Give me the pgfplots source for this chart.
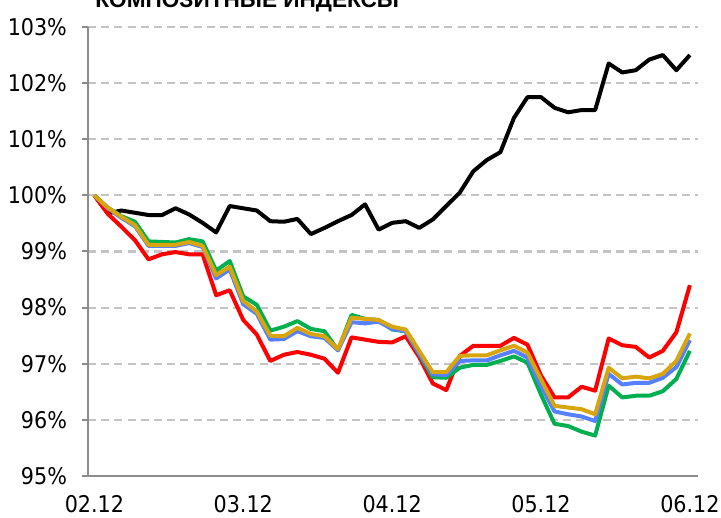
\documentclass[border=0pt]{standalone}
\usepackage{fontspec}
\setmainfont{DejaVu Sans Condensed}
\newfontfamily\titlefont{Liberation Sans}
\usepackage{pgfplots}
\usepackage{pgfplotstable}
\pgfplotsset{compat=1.18}
\definecolor{cred}{HTML}{FF0000}
\definecolor{cgreen}{HTML}{00B050}
\definecolor{cblue}{HTML}{5580FF}
\definecolor{cgold}{HTML}{D9A50C}
\definecolor{cgrid}{HTML}{C4C4C4}
\definecolor{caxis}{HTML}{8C8C8C}
\pgfplotstableread{
i black red green blue gold
0 100.00 100.00 100.00 100.00 100.00
1 99.68 99.67 99.78 99.77 99.78
2 99.73 99.44 99.63 99.60 99.62
3 99.69 99.20 99.53 99.45 99.47
4 99.65 98.86 99.18 99.10 99.12
5 99.65 98.95 99.17 99.10 99.12
6 99.77 98.99 99.16 99.10 99.12
7 99.66 98.95 99.22 99.15 99.17
8 99.51 98.95 99.18 99.08 99.10
9 99.34 98.22 98.66 98.52 98.58
10 99.81 98.31 98.83 98.68 98.73
11 99.77 97.78 98.20 98.06 98.12
12 99.73 97.52 98.05 97.89 97.93
13 99.54 97.05 97.59 97.43 97.50
14 99.53 97.16 97.66 97.44 97.49
15 99.58 97.21 97.76 97.58 97.64
16 99.31 97.16 97.62 97.49 97.53
17 99.42 97.09 97.58 97.46 97.49
18 99.54 96.84 97.24 97.24 97.26
19 99.65 97.47 97.87 97.74 97.82
20 99.84 97.43 97.80 97.72 97.80
21 99.39 97.39 97.78 97.75 97.78
22 99.51 97.38 97.61 97.62 97.66
23 99.54 97.49 97.58 97.58 97.61
24 99.42 97.12 97.17 97.18 97.23
25 99.57 96.65 96.76 96.81 96.85
26 99.81 96.53 96.75 96.80 96.85
27 100.05 97.14 96.93 97.05 97.14
28 100.43 97.32 96.98 97.06 97.15
29 100.63 97.32 96.98 97.06 97.15
30 100.77 97.32 97.05 97.15 97.24
31 101.38 97.46 97.13 97.23 97.32
32 101.75 97.34 97.02 97.11 97.20
33 101.75 96.79 96.45 96.60 96.72
34 101.56 96.40 95.93 96.15 96.25
35 101.48 96.40 95.89 96.10 96.22
36 101.52 96.59 95.79 96.06 96.19
37 101.52 96.52 95.72 95.98 96.10
38 102.35 97.45 96.61 96.82 96.93
39 102.19 97.33 96.40 96.63 96.74
40 102.23 97.30 96.43 96.66 96.77
41 102.42 97.11 96.43 96.66 96.74
42 102.50 97.23 96.51 96.75 96.82
43 102.23 97.56 96.73 96.94 97.05
44 102.50 98.40 97.23 97.42 97.54
}\data
\begin{document}
\begin{tikzpicture}
\begin{axis}[
  at={(0,0)}, anchor=south west,
  scale only axis, width=305pt, height=224.5pt,
  xmin=-0.47, xmax=44.6, ymin=95, ymax=103,
  axis x line*=bottom, axis y line*=left,
  axis line style={draw=caxis, line width=1pt},
  xtick={0,11,22,33,44},
  xticklabels={02.12,03.12,04.12,05.12,06.12},
  ytick={95,96,...,103},
  yticklabels={95\%,96\%,97\%,98\%,99\%,100\%,101\%,102\%,103\%},
  tick align=outside,
  major tick length=3pt,
  xtick style={draw=none},
  ytick style={draw=caxis, line width=1pt},
  ymajorgrids,
  grid style={draw=cgrid, line width=1.1pt, dash pattern=on 4pt off 2.6pt},
  tick label style={font=\fontsize{11.5}{13}\selectfont, text=black},
  yticklabel style={xshift=-4pt},
  xticklabel style={yshift=-3.2pt},
  every axis plot/.append style={line width=2pt, line join=round, mark=none},
]
\addplot[black] table[x=i, y=black] {\data};
\addplot[cred] table[x=i, y=red] {\data};
\addplot[cgreen] table[x=i, y=green] {\data};
\addplot[cblue] table[x=i, y=blue] {\data};
\addplot[cgold] table[x=i, y=gold] {\data};
\end{axis}
\node[anchor=base west, inner sep=0pt, font=\titlefont\bfseries\fontsize{11.3}{13}\selectfont] at (3.5pt,234pt) {КОМПОЗИТНЫЕ ИНДЕКСЫ};
\pgfresetboundingbox
\useasboundingbox (-44pt,-21pt) rectangle (316.5pt,238pt);
\end{tikzpicture}
\end{document}
